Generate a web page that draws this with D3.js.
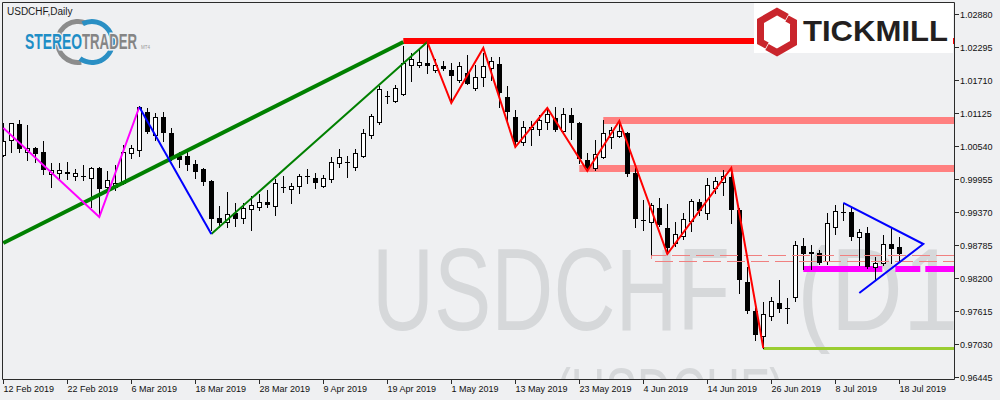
<!DOCTYPE html>
<html><head><meta charset="utf-8">
<script src="https://cdn.jsdelivr.net/npm/d3@7"></script>
<style>html,body{margin:0;padding:0;background:#eff0f2;} svg{display:block;}</style>
</head><body><svg id="c" width="1000" height="400"></svg>
<script>
// ---------- DATA ----------
const dates = ["2019-02-12","2019-02-13","2019-02-14","2019-02-15","2019-02-18","2019-02-19","2019-02-20","2019-02-21","2019-02-22","2019-02-25","2019-02-26","2019-02-27","2019-02-28",
"2019-03-01","2019-03-04","2019-03-05","2019-03-06","2019-03-07","2019-03-08","2019-03-11","2019-03-12","2019-03-13","2019-03-14","2019-03-15","2019-03-18","2019-03-19","2019-03-20","2019-03-21","2019-03-22","2019-03-25","2019-03-26","2019-03-27","2019-03-28","2019-03-29",
"2019-04-01","2019-04-02","2019-04-03","2019-04-04","2019-04-05","2019-04-08","2019-04-09","2019-04-10","2019-04-11","2019-04-12","2019-04-15","2019-04-16","2019-04-17","2019-04-18","2019-04-19","2019-04-22","2019-04-23","2019-04-24","2019-04-25","2019-04-26","2019-04-29","2019-04-30",
"2019-05-01","2019-05-02","2019-05-03","2019-05-06","2019-05-07","2019-05-08","2019-05-09","2019-05-10","2019-05-13","2019-05-14","2019-05-15","2019-05-16","2019-05-17","2019-05-20","2019-05-21","2019-05-22","2019-05-23","2019-05-24","2019-05-27","2019-05-28","2019-05-29","2019-05-30","2019-05-31",
"2019-06-03","2019-06-04","2019-06-05","2019-06-06","2019-06-07","2019-06-10","2019-06-11","2019-06-12","2019-06-13","2019-06-14","2019-06-17","2019-06-18","2019-06-19","2019-06-20","2019-06-21","2019-06-24","2019-06-25","2019-06-26","2019-06-27","2019-06-28",
"2019-07-01","2019-07-02","2019-07-03","2019-07-04","2019-07-05","2019-07-08","2019-07-09","2019-07-10","2019-07-11","2019-07-12","2019-07-15","2019-07-16","2019-07-17","2019-07-18"];

const open = [1.00380,1.00646,1.00930,1.00434,1.00504,1.00434,1.00043,1.00061,1.00079,1.00008,1.00008,0.99972,1.00150,
0.99813,0.99813,0.99884,1.00416,1.00469,1.01143,1.00734,1.01054,1.00770,1.00363,1.00363,1.00221,1.00132,0.99919,0.99263,0.99193,0.99352,0.99263,0.99423,0.99458,0.99547,
0.99476,0.99813,0.99777,0.99831,1.00008,0.99972,0.99831,0.99955,1.00239,1.00257,1.00168,1.00363,1.00734,1.00966,1.01426,1.01337,1.01461,1.01976,1.01976,1.02011,1.01887,1.01958,
1.01887,1.01710,1.01834,1.01568,1.01763,1.01923,1.01993,1.01408,1.01054,1.00611,1.00841,1.00841,1.00966,1.01036,1.00805,1.01090,1.00948,1.00292,1.00150,1.00345,1.00699,1.00717,1.00770,
1.00061,0.99228,0.99193,0.99440,0.99086,0.98820,0.98944,0.99210,0.99547,0.99352,0.99795,0.99902,0.99990,0.99405,0.98129,0.97615,0.97171,0.97526,0.97757,0.97668,
0.97863,0.98767,0.98661,0.98643,0.98501,0.99104,0.99370,0.99370,0.98927,0.98997,0.98395,0.98466,0.98802,0.98749];
const high = [1.00948,1.00950,1.01001,1.00912,1.00522,1.00628,1.00239,1.00239,1.00257,1.00132,1.00203,1.00168,1.00168,
1.00097,1.00203,1.00557,1.00557,1.01249,1.01213,1.01125,1.01143,1.00859,1.00434,1.00434,1.00292,1.00150,0.99937,0.99476,0.99724,0.99530,0.99530,0.99654,0.99689,0.99760,
0.99955,1.00008,0.99884,1.00043,1.00132,1.00061,1.00026,1.00345,1.00487,1.00363,1.00487,1.00841,1.01107,1.01603,1.01514,1.01621,1.02313,1.02189,1.02260,1.02384,1.02082,1.02047,
1.02011,1.02029,1.02153,1.01976,1.02189,1.02118,1.02118,1.01603,1.01178,1.00983,1.00983,1.01090,1.01231,1.01231,1.01213,1.01213,1.00966,1.00416,1.00646,1.01001,1.00876,1.00983,1.00788,
1.00150,0.99583,0.99530,0.99618,0.99512,0.99193,0.99352,0.99601,0.99601,0.99972,0.99990,1.00114,1.00168,0.99440,0.98395,0.97668,0.97774,0.97863,0.98164,0.97845,
0.98856,0.98909,0.98785,0.98696,0.99352,0.99494,0.99530,0.99440,0.99068,0.99104,0.98572,0.98962,0.99086,0.98927];
const low = [1.00363,1.00434,1.00434,1.00292,1.00257,1.00043,0.99813,0.99955,0.99955,0.99937,0.99937,0.99458,0.99281,
0.99707,0.99760,0.99866,1.00327,1.00363,1.00770,1.00646,1.00628,1.00292,1.00168,1.00114,0.99972,0.99848,0.99051,0.99104,0.99104,0.99122,0.99175,0.99051,0.99405,0.99458,
0.99316,0.99724,0.99530,0.99707,0.99884,0.99795,0.99813,0.99902,1.00168,0.99990,1.00114,1.00345,1.00681,1.00930,1.01302,1.01320,1.01444,1.01692,1.01940,1.01834,1.01852,1.01887,
1.01302,1.01674,1.01639,1.01532,1.01603,1.01710,1.01231,1.00948,1.00522,1.00557,1.00557,1.00734,1.00841,1.00805,1.00788,1.00664,1.00239,1.00114,1.00114,1.00327,1.00504,1.00699,1.00008,
0.99104,0.99051,0.98607,0.99122,0.98625,0.98767,0.98891,0.99033,0.99316,0.99246,0.99707,0.99671,0.99175,0.97934,0.97579,0.97100,0.96958,0.97455,0.97597,0.97402,
0.97792,0.98359,0.98359,0.98448,0.98448,0.98980,0.99228,0.98873,0.98430,0.98377,0.98182,0.98430,0.98466,0.98519];
const close = [1.00628,1.00948,1.00504,1.00504,1.00416,1.00132,1.00114,1.00114,1.00061,1.00061,1.00000,1.00150,0.99795,
0.99937,0.99884,1.00434,1.00504,1.01231,1.00805,1.01054,1.00788,1.00327,1.00310,1.00221,1.00097,0.99919,0.99263,0.99193,0.99334,0.99263,0.99440,0.99494,0.99547,0.99512,
0.99884,0.99815,0.99831,1.00008,1.00010,0.99902,0.99972,1.00257,1.00345,1.00255,1.00416,1.00770,1.01072,1.01550,1.01420,1.01568,1.02011,1.02082,1.02029,1.01976,1.01976,1.01923,
1.01798,1.01958,1.01656,1.01763,1.01958,1.02047,1.01497,1.01160,1.00628,1.00876,1.00876,1.01001,1.01107,1.00841,1.01107,1.00966,1.00327,1.00168,1.00398,1.00770,1.00823,1.00805,1.00061,
0.99263,0.99225,0.99494,0.99157,0.98749,0.98980,0.99246,0.99565,0.99405,0.99848,0.99919,1.00008,0.99423,0.98182,0.97632,0.97207,0.97562,0.97792,0.97668,0.97665,
0.98785,0.98643,0.98643,0.98484,0.99175,0.99387,0.99365,0.98944,0.99015,0.98413,0.98466,0.98802,0.98731,0.98643];

const yTicks = [0.96445,0.97030,0.97615,0.98200,0.98785,0.99370,0.99955,1.00540,1.01125,1.01710,1.02295,1.02880];
const xTickDates = ["2019-02-12","2019-02-22","2019-03-06","2019-03-18","2019-03-28","2019-04-09","2019-04-19","2019-05-01","2019-05-13","2019-05-23","2019-06-04","2019-06-14","2019-06-26","2019-07-08","2019-07-18"];
const xTickLabels = ["12 Feb 2019","22 Feb 2019","6 Mar 2019","18 Mar 2019","28 Mar 2019","9 Apr 2019","19 Apr 2019","1 May 2019","13 May 2019","23 May 2019","4 Jun 2019","14 Jun 2019","26 Jun 2019","8 Jul 2019","18 Jul 2019"];

// drawings: [bar index, price]
const greenTrendThick = [[0,0.98820],[50,1.02384]];
const greenTrendThin = [[26,0.98980],[53,1.02384]];
const magentaZigzag = [[0,1.00859],[12,0.99281],[17,1.01231]];
const blueSwing = [[17,1.01231],[26,0.98980]];
const redZigzag = [[53,1.02384],[56,1.01302],[60,1.02277],[64,1.00522],[68,1.01213],[73,1.00097],[77,1.00983],[83,0.98625],[91,1.00150],[95,0.96958]];
const triangle = [[105,0.99530],[115,0.98802],[107,0.97934]];
// horizontal zones: start bar, top price, bottom price
const zoneStart = [50,75,72,100,95];
const zoneTop = [1.02455,1.01054,1.00203,0.98413,0.96976];
const zoneBottom = [1.02348,1.00930,1.00079,0.98306,0.96922];
// dashed rectangle
const boxStart = 81, boxTop = 0.98607, boxBottom = 0.98501;

// ---------- STYLE ----------
const BG = "#eff0f2";
const zoneColors = ["#ff0000","#ff8080","#ff8080","#ff00ff","#9acd32"];
const FONT = "'Liberation Sans', Arial, sans-serif";

const svg = d3.select("#c");
svg.append("rect").attr("width",1000).attr("height",400).attr("fill",BG);

const L = 3, R = 954, T = 2, B = 380;
const x = d3.scaleLinear().domain([0,112]).range([3.3,899.3]);
const y = d3.scaleLinear().domain([0.96445,1.02880]).range([377,14]);

svg.append("defs").append("clipPath").attr("id","plot")
  .append("rect").attr("x",L).attr("y",T).attr("width",R-L).attr("height",B-T);

const g = svg.append("g").attr("clip-path","url(#plot)");

// watermark
const wm = g.append("g").attr("fill","#d6d8da").attr("font-family",FONT);
wm.append("text").attr("x",372).attr("y",330).attr("font-size",116)
  .attr("textLength",358).attr("lengthAdjust","spacingAndGlyphs").text("USDCHF");
wm.append("text").attr("x",797).attr("y",330).attr("font-size",116)
  .attr("textLength",195).attr("lengthAdjust","spacingAndGlyphs").text("(D1)");
wm.append("text").attr("x",555).attr("y",419).attr("font-size",72)
  .attr("textLength",230).attr("lengthAdjust","spacingAndGlyphs").text("(USDCHF)");

// zones
zoneStart.forEach((s,k)=>{
  const y0 = y(zoneTop[k]), y1 = y(zoneBottom[k]);
  const ln = g.append("line").attr("x1",x(s)).attr("x2",R)
    .attr("y1",(y0+y1)/2).attr("y2",(y0+y1)/2)
    .attr("stroke",zoneColors[k]).attr("stroke-width",y1-y0);
  if (k===3) ln.attr("stroke-dasharray","79,13,25,5,200");
});

// candles
const idx = d3.range(dates.length);
const cg = g.append("g");
idx.forEach(i=>{
  const cx = Math.round(x(i));
  cg.append("line").attr("x1",cx+0.5).attr("x2",cx+0.5)
    .attr("y1",Math.round(y(high[i]))).attr("y2",Math.round(y(low[i]))+1)
    .attr("stroke","#000").attr("stroke-width",1);
  const yt = Math.round(y(Math.max(open[i],close[i])));
  const yb = Math.round(y(Math.min(open[i],close[i])));
  if (yb - yt < 1) {
    cg.append("line").attr("x1",cx-2).attr("x2",cx+3).attr("y1",yt+0.5).attr("y2",yt+0.5)
      .attr("stroke","#000");
  } else {
    cg.append("rect").attr("x",cx-2+0.5).attr("width",4).attr("y",yt+0.5).attr("height",yb-yt)
      .attr("fill", close[i]>=open[i] ? "#ffffff" : "#000000").attr("stroke","#000");
  }
});

// dashed box
g.append("path")
  .attr("d",`M${R},${Math.round(y(boxTop))+0.5}H${Math.round(x(boxStart))+0.5}V${Math.round(y(boxBottom))+0.5}H${R}`)
  .attr("fill","none").attr("stroke","#f08080").attr("stroke-width",1).attr("stroke-dasharray","18,6");

// trend lines
const line = d3.line().x(d=>x(d[0])).y(d=>y(d[1]));
g.append("path").datum(greenTrendThick).attr("d",line).attr("fill","none").attr("stroke","#008000").attr("stroke-width",4);
g.append("path").datum(greenTrendThin).attr("d",line).attr("fill","none").attr("stroke","#008000").attr("stroke-width",2);
g.append("path").datum(magentaZigzag).attr("d",line).attr("fill","none").attr("stroke","#ff00ff").attr("stroke-width",2);
g.append("path").datum(blueSwing).attr("d",line).attr("fill","none").attr("stroke","#0000ff").attr("stroke-width",2);
g.append("path").datum(redZigzag).attr("d",line).attr("fill","none").attr("stroke","#ff0000").attr("stroke-width",2);
g.append("path").datum(triangle).attr("d",line).attr("fill","none").attr("stroke","#0000ff").attr("stroke-width",2);

// frame
svg.append("path").attr("d",`M${L-0.5},${B-0.5}V${T+0.5}H${R+0.5}V${B-0.5}H${L-0.5}`)
  .attr("fill","none").attr("stroke","#2b2b2b").attr("stroke-width",1);

// y axis
const ya = svg.append("g").attr("font-family",FONT).attr("font-size",9).attr("fill","#111");
yTicks.forEach(v=>{
  const yy = Math.round(y(v))+0.5;
  ya.append("line").attr("x1",R+1).attr("x2",R+5).attr("y1",yy).attr("y2",yy).attr("stroke","#2b2b2b");
  ya.append("text").attr("x",R+6).attr("y",yy).attr("dy","0.35em").text(d3.format(".5f")(v));
});
// x axis
const xa = svg.append("g").attr("font-family",FONT).attr("font-size",9).attr("fill","#111");
xTickDates.forEach((d,k)=>{
  const xx = Math.round(x(dates.indexOf(d)))+0.5;
  xa.append("line").attr("x1",xx).attr("x2",xx).attr("y1",B).attr("y2",B+4).attr("stroke","#2b2b2b");
  xa.append("text").attr("x",xx).attr("y",392).text(xTickLabels[k]);
});

// title
svg.append("text").attr("x",7).attr("y",15).attr("font-family",FONT).attr("font-size",10)
  .attr("fill","#1a1a1a").text("USDCHF,Daily");

// Stereotrader logo
const st = svg.append("g");
st.append("path").attr("d",d3.arc().innerRadius(18).outerRadius(23).startAngle(-Math.PI*1.05).endAngle(Math.PI*0.12)())
  .attr("transform","translate(78,42)").attr("fill","#8c8c8c");
st.append("path").attr("d",d3.arc().innerRadius(18).outerRadius(23).startAngle(-Math.PI*0.15).endAngle(Math.PI*1.2)())
  .attr("transform","translate(92,42)").attr("fill","#2a8fc4");
st.append("text").attr("x",25).attr("y",49).attr("font-family",FONT).attr("font-size",22).attr("font-weight","bold")
  .attr("textLength",57).attr("lengthAdjust","spacingAndGlyphs")
  .attr("fill","#1f8ec6").attr("stroke",BG).attr("stroke-width",3).attr("paint-order","stroke").text("STEREO");
st.append("text").attr("x",82).attr("y",49).attr("font-family",FONT).attr("font-size",22).attr("font-weight","bold")
  .attr("textLength",55).attr("lengthAdjust","spacingAndGlyphs")
  .attr("fill","#858585").attr("stroke",BG).attr("stroke-width",3).attr("paint-order","stroke").text("TRADER");
st.append("text").attr("x",141).attr("y",49).attr("font-family",FONT).attr("font-size",4.5).attr("fill","#999").text("MT4");

// Tickmill logo
const tm = svg.append("g");
tm.append("rect").attr("x",754).attr("y",3).attr("width",199).attr("height",50).attr("fill","#ffffff");
tm.append("path").attr("d","M787,17 L777,11.5 L760.5,21 L760.5,42 L767,45.5")
  .attr("fill","none").attr("stroke","#c9252c").attr("stroke-width",7).attr("stroke-linejoin","miter");
tm.append("path").attr("d","M767,47 L777,52.5 L793.5,43 L793.5,22 L787,18.5")
  .attr("fill","none").attr("stroke","#c9252c").attr("stroke-width",7).attr("stroke-linejoin","miter");
tm.append("text").attr("x",803).attr("y",41).attr("font-family",FONT).attr("font-size",30).attr("font-weight","bold")
  .attr("textLength",145).attr("lengthAdjust","spacingAndGlyphs").attr("fill","#231f20").text("TICKMILL");
</script></body></html>
